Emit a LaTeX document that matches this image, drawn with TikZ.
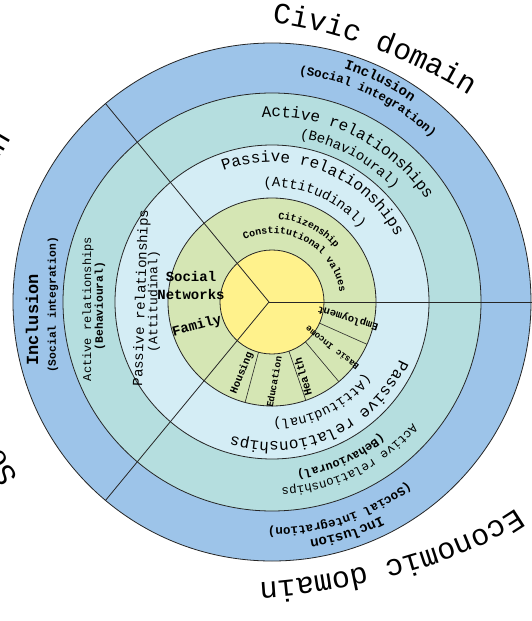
\documentclass[tikz,border=0pt]{standalone}
\usepackage{fontspec}
\usetikzlibrary{decorations.text}
\newfontfamily\mono{Liberation Mono}
\definecolor{outerblue}{HTML}{9DC4E9}
\definecolor{tealring}{HTML}{B5DEDF}
\definecolor{lightring}{HTML}{D4EDF5}
\definecolor{greenring}{HTML}{D5E6B4}
\definecolor{yellowcore}{HTML}{FFF28C}
\newcommand\fs[1]{\fontsize{#1}{#1}\selectfont}
% #1 centre angle, #2 baseline radius, #3 font, #4 text
\newcommand\arctext[4]{%
  \path[decorate,decoration={text along path,text align=center,
    text={|#3|#4}}]
    ({#1+80}:#2) arc[start angle={#1+80},end angle={#1-80},radius=#2];}
\tikzset{
  ring/.style={circle,draw=black!85,line width=0.8pt,inner sep=0pt},
  spoke/.style={draw=black!85,line width=0.8pt},
  divider/.style={draw=black!85,line width=0.6pt},
  lbl/.style={font=\mono,inner sep=0pt},
}
\begin{document}
\begin{tikzpicture}[x=1pt,y=1pt]
\useasboundingbox (-272,-319) rectangle (260,302);
\fill[white] (-272,-319) rectangle (260,302);
\node[ring,fill=outerblue,minimum size=518pt] (outer) at (0,0) {};
\node[ring,fill=tealring,minimum size=418pt] (active) at (0,0) {};
\node[ring,fill=lightring,minimum size=314pt] (passive) at (0,0) {};
\node[ring,fill=greenring,minimum size=208pt] (green) at (0,0) {};
\node[ring,fill=yellowcore,minimum size=104pt] (core) at (0,0) {};
\coordinate (c) at (-3,0);
\coordinate (e1) at (260,0);
\coordinate (e2) at (130:259);
\coordinate (e3) at (230:259);
\draw[spoke] (c) -- (e1);
\draw[spoke] (c) -- (e2);
\draw[spoke] (c) -- (e3);
% dividers in the green ring
\foreach \a/\n in {255/d1,289/d2,310/d3,336/d4}{
  \coordinate (\n a) at (\a:52);
  \coordinate (\n b) at (\a:104);
  \draw[divider] (\n a) -- (\n b);
}
% domains
\path[decorate,decoration={text along path,text align=left,
    text={|\mono\fs{29.5}|Civic domain}}]
    (0,279) .. controls (70,271) and (160,236) .. (225,188);
\path[decorate,decoration={text along path,text align=left,
    text={|\mono\fs{30}|Economic domain}}]
    (244,-206) .. controls (190,-245) and (60,-283) .. (-50,-281);
\arctext{181.3}{308}{\mono\fs{30}}{Sociocultural domain}
% upper right sector
\arctext{64}{244}{\mono\bfseries\fs{14}}{Inclusion}
\arctext{64.5}{229}{\mono\bfseries\fs{12.5}}{(Social integration)}
\arctext{63.4}{185}{\mono\fs{16}}{Active relationships}
\arctext{61.6}{166}{\mono\fs{14}}{(Behavioural)}
\arctext{69}{140}{\mono\fs{16}}{Passive relationships}
\arctext{67}{115}{\mono\fs{14}}{(Attitudinal)}
\arctext{63}{83}{\mono\bfseries\fs{10}}{Citizenship}
\arctext{61}{68.5}{\mono\bfseries\fs{10}}{Constitutional values}
% lower right sector
\arctext{-72}{241}{\mono\bfseries\fs{14}}{Inclusion}
\arctext{-72}{226}{\mono\bfseries\fs{12.5}}{(Social integration)}
\arctext{-64}{186}{\mono\fs{12.5}}{Active relationships}
\arctext{-66}{171}{\mono\bfseries\fs{12}}{(Behavioural)}
\arctext{-65.6}{140}{\mono\fs{16}}{Passive relationships}
\arctext{-63.5}{118}{\mono\fs{13.7}}{(Attitudinal)}
% left sector
\node[lbl,rotate=90,font=\mono\bfseries\fs{17}] (l1) at (-240,-18) {Inclusion};
\node[lbl,rotate=90,font=\mono\bfseries\fs{11.3}] (l2) at (-219,-3) {(Social integration)};
\node[lbl,rotate=90,font=\mono\fs{12}] (l3) at (-184,-7) {Active relationships};
\node[lbl,rotate=90,font=\mono\bfseries\fs{11.3}] (l4) at (-172,-4) {(Behavioural)};
\node[lbl,rotate=88,font=\mono\fs{14}] (l5) at (-130.5,4) {Passive relationships};
\node[lbl,rotate=90,font=\mono\fs{13}] (l6) at (-118,0.5) {(Attitudinal)};
% green ring labels
\node[lbl,align=center,font=\mono\bfseries\fontsize{14}{18}\selectfont] (sn) at (-81,17) {Social\\Networks};
\node[lbl,rotate=15,font=\mono\bfseries\fs{14}] (fam) at (-75,-24) {Family};
\node[lbl,rotate=68,font=\mono\bfseries\fs{10.5}] (hous) at (-30,-71) {Housing};
\node[lbl,rotate=80,font=\mono\bfseries\fs{9.5}] (edu) at (2,-80) {Education};
\node[lbl,rotate=106,font=\mono\bfseries\fs{11}] (heal) at (31,-75) {Health};
\node[lbl,rotate=142,font=\mono\bfseries\fs{9}] (inc) at (60,-46) {Basic Income};
\node[lbl,rotate=163,font=\mono\bfseries\fs{10.5}] (emp) at (76,-16) {Employment};
\end{tikzpicture}
\end{document}
